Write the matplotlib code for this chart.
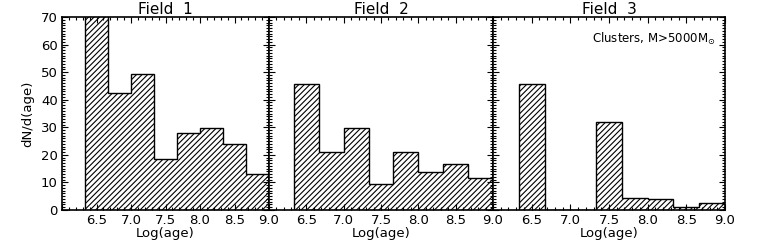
import numpy as np
import matplotlib
matplotlib.use('Agg')
import matplotlib.pyplot as plt
from matplotlib.ticker import MultipleLocator, FuncFormatter

# bin edges in log(age), 1/3 dex wide
bin_edges = [6.333, 6.667, 7.0, 7.333, 7.667, 8.0, 8.333, 8.667, 9.0]

titles = ['Field  1', 'Field  2', 'Field  3']

# dN/d(age) per bin (first bin of field 1 runs off the top)
field1 = [85.0, 42.3, 49.3, 18.4, 27.8, 29.9, 23.9, 13.0]
field2 = [45.6, 21.2, 29.6, 9.3, 21.2, 13.9, 16.6, 11.5]
field3 = [45.6, 0.0, 0.0, 32.0, 4.3, 3.9, 1.2, 2.6]

plt.rcParams['font.family'] = 'DejaVu Sans'
plt.rcParams['hatch.linewidth'] = 0.8

fig = plt.figure(figsize=(7.63, 2.45), dpi=100)

# panel edges in pixels (left, right) -- panels are not equal width
px_bounds = [(62, 269), (269, 493), (493, 725)]
top_px, bot_px = 17, 210
W, H = 763, 245

axes = []
for (l, r) in px_bounds:
    ax = fig.add_axes([l / W, 1 - bot_px / H, (r - l) / W, (bot_px - top_px) / H])
    axes.append(ax)

def xfmt(v, pos):
    if v < 6.25:
        return ''
    return '%.1f' % v

for i, (ax, vals) in enumerate(zip(axes, [field1, field2, field3])):
    ax.stairs(vals, bin_edges, fill=True, facecolor='none', edgecolor='black',
              hatch='//////', linewidth=1.0)
    ax.set_xlim(6.0, 9.0)
    ax.set_ylim(0, 70)
    ax.set_title(titles[i], fontsize=11, pad=1.5)
    ax.set_xlabel('Log(age)', fontsize=9.5, labelpad=0)

    ax.xaxis.set_major_locator(MultipleLocator(0.5))
    ax.xaxis.set_minor_locator(MultipleLocator(0.1))
    ax.xaxis.set_major_formatter(FuncFormatter(xfmt))
    ax.yaxis.set_major_locator(MultipleLocator(10))
    ax.yaxis.set_minor_locator(MultipleLocator(1))

    ax.tick_params(which='both', direction='in', top=True, right=True,
                   width=0.8, labelsize=9.5)
    ax.tick_params(which='major', length=4, pad=3)
    ax.tick_params(which='minor', length=2)
    for s in ax.spines.values():
        s.set_linewidth(1.2)
    if i > 0:
        ax.tick_params(labelleft=False)

axes[0].set_ylabel('dN/d(age)', fontsize=9.5, labelpad=5)
axes[2].text(0.96, 0.93, r'Clusters, M>5000M$_{\!\odot}$', transform=axes[2].transAxes,
             ha='right', va='top', fontsize=8.5)

fig.savefig('out.png', dpi=100)
